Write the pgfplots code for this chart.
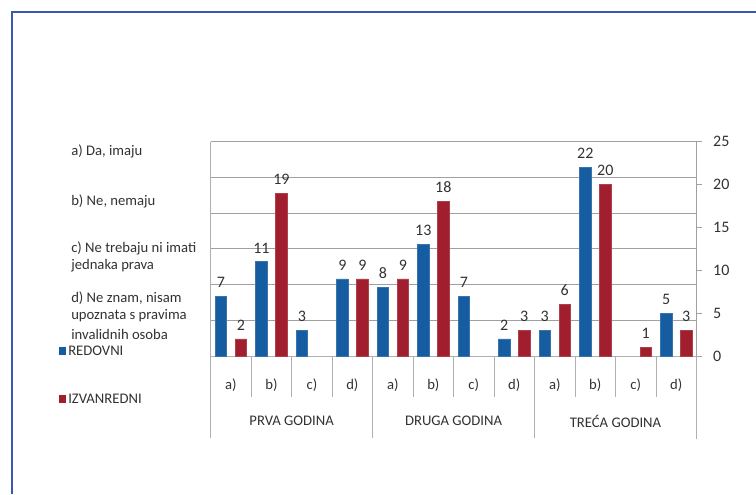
\documentclass[border=0pt]{standalone}
\usepackage{pgfplots}
\pgfplotsset{compat=1.18}
\usepackage{fontspec}
\setmainfont{Carlito}
\definecolor{redovni}{RGB}{22,92,160}
\definecolor{izvanredni}{RGB}{160,30,45}
\definecolor{txt}{RGB}{50,50,50}
\definecolor{frame}{RGB}{58,88,176}
\definecolor{gridc}{RGB}{160,160,160}
\definecolor{sepc}{RGB}{175,175,175}

\begin{document}
\begin{tikzpicture}[x=1pt,y=1pt]
\useasboundingbox (0,0) rectangle (567,370.5);
% outer frame (only top and left edges fall inside the page)
\draw[frame, line width=1.1pt] (9,0) -- (9,361.5) -- (567,361.5);

% question options
\begin{scope}[every node/.style={anchor=west, inner sep=0pt, text=txt, font=\fontsize{11}{13}\selectfont}]
\node at (53.25,257.25) {a) Da, imaju};
\node at (53.25,219.75) {b) Ne, nemaju};
\node at (53.25,184.5) {c) Ne trebaju ni imati};
\node at (53.25,171) {jednaka prava};
\node at (53.25,147) {d) Ne znam, nisam};
\node at (53.25,133.5) {upoznata s pravima};
\node at (53.25,120) {invalidnih osoba};
% legend
\fill[redovni] (44.25,104.6) rectangle (49.5,109.9);
\node at (51,107.25) {REDOVNI};
\fill[izvanredni] (44.25,68.6) rectangle (49.5,73.9);
\node at (51,71.25) {IZVANREDNI};
\end{scope}

\begin{axis}[
  at={(158pt,103.5pt)}, anchor=south west,
  scale only axis, width=364.35pt, height=160.7pt,
  xmin=0, xmax=12, ymin=0, ymax=25,
  clip=false,
  axis x line*=bottom, axis y line*=right,
  x axis line style={sepc, line width=0.6pt, -},
  y axis line style={gridc, line width=0.6pt, -},
  xtick={0.5,1.5,...,11.5},
  xticklabels={a),b),c),d),a),b),c),d),a),b),c),d)},
  x tick label style={anchor=center, yshift=-17.5pt, text=txt, font=\fontsize{11}{13}\selectfont},
  x tick style={draw=none},
  ytick={0,5,...,25},
  ytick pos=right, tick align=outside,
  y tick style={gridc, line width=0.6pt},
  major tick length=4pt,
  y tick label style={anchor=west, xshift=5pt, text=txt, font=\fontsize{12}{14}\selectfont},
  /pgf/number format/assume math mode=true,
  extra y ticks={4.1667,8.3333,12.5,16.6667,20.8333,25},
  extra y tick labels={},
  extra y tick style={grid=major, major tick length=0pt, major grid style={gridc, line width=0.6pt}},
  ybar, bar width=8.6pt,
  nodes near coords,
  every node near coord/.append style={text=txt, font=\fontsize{12}{14}\selectfont, yshift=3pt},
]
% REDOVNI
\addplot[fill=redovni, draw=redovni!85!white, bar shift=-7.5pt] coordinates {
  (0.5,7) (1.5,11) (2.5,3) (3.5,9)
  (4.5,8) (5.5,13) (6.5,7) (7.5,2)
  (8.5,3) (9.5,22) (11.5,5)};
% IZVANREDNI
\addplot[fill=izvanredni, draw=izvanredni!85!white, bar shift=7.5pt] coordinates {
  (0.5,2) (1.5,19) (3.5,9)
  (4.5,9) (5.5,18) (7.5,3)
  (8.5,6) (9.5,20) (10.5,1) (11.5,3)};

% category separators below the baseline
\pgfplotsinvokeforeach{1,2,3,5,6,7,9,10,11}{
  \draw[sepc, line width=0.6pt] (axis cs:#1,0) -- ++(0,-30.75pt);
}
\pgfplotsinvokeforeach{4,8}{
  \draw[sepc, line width=0.6pt] (axis cs:#1,0) -- ++(0,-61.5pt);
}
\draw[sepc, line width=0.6pt] (axis cs:0,25) -- (axis cs:0,0) -- ++(0,-61.5pt);
\draw[sepc, line width=0.6pt] (axis cs:12,0) -- ++(0,-62pt);

% year groups
\node[text=txt, font=\fontsize{11}{13}\selectfont] at ([yshift=-48.75pt]axis cs:2,0) {PRVA GODINA};
\node[text=txt, font=\fontsize{11}{13}\selectfont] at ([yshift=-48.75pt]axis cs:6,0) {DRUGA GODINA};
\node[text=txt, font=\fontsize{11}{13}\selectfont] at ([yshift=-48.75pt]axis cs:10,0) {TREĆA GODINA};
\end{axis}
\end{tikzpicture}
\end{document}
